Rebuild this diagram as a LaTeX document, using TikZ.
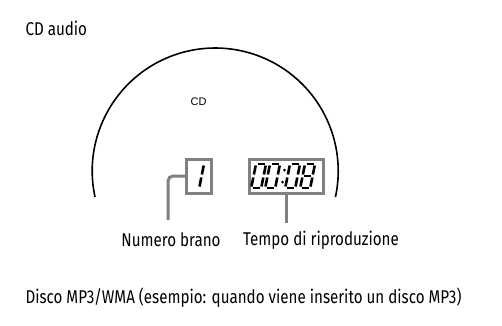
\documentclass[tikz,border=0pt]{standalone}
\usepackage{fontspec}
\setsansfont{Fira Sans}[FakeStretch=0.82]
\newfontfamily\arialfont{Liberation Sans}
\usetikzlibrary{positioning}

% segments of one lcd digit, top left corner at (0,0), y going down
\newcommand\lcdsegA{\draw[lcdseg] (1.5,0) -- (8.5,0);}
\newcommand\lcdsegB{\draw[lcdseg] (10,1.5) -- (10,10.5);}
\newcommand\lcdsegC{\draw[lcdseg] (10,13.5) -- (10,22.5);}
\newcommand\lcdsegD{\draw[lcdseg] (1.5,24) -- (8.5,24);}
\newcommand\lcdsegE{\draw[lcdseg] (0,13.5) -- (0,22.5);}
\newcommand\lcdsegF{\draw[lcdseg] (0,1.5) -- (0,10.5);}
\newcommand\lcdsegG{\draw[lcdseg] (1.5,12) -- (8.5,12);}
\newcommand\lcddigit[2]{%
	\begin{scope}[shift={#1},xslant=0.2]
		\foreach \s in {#2} {\csname lcdseg\s\endcsname}
	\end{scope}}

\begin{document}
\begin{tikzpicture}[x=1pt,y=-1pt,font=\sffamily\fontsize{18.5}{20}\selectfont,
	lcdbox/.style={draw=black!50,line width=3pt,minimum height=34pt,inner sep=0pt,outer sep=0pt},
	lcdseg/.style={line width=2.6pt},
	callout/.style={draw=black!50,line width=3pt,rounded corners=5pt},
	disc/.style={line width=1.6pt}]
	\useasboundingbox (0,0) rectangle (502,325);

	\node [anchor=west] at (22,28) (cd_title) {CD audio};
	\draw [disc] (95,197) arc [start angle=167.8,end angle=372.2,radius=123];
	\node [font=\arialfont\fontsize{11}{12}\selectfont] at (198.5,102) (cd_label) {CD};

	\node [lcdbox,minimum width=25pt] at (198.5,176) (track_box) {};
	\node [lcdbox,minimum width=74pt] at (286,176) (time_box) {};

	% digits
	\lcddigit{(194,164)}{B,C}
	\lcddigit{(256,164)}{A,B,C,D,E,F}
	\lcddigit{(270,164)}{A,B,C,D,E,F}
	\fill (284.5,170) circle (1.5) (282.5,182) circle (1.5);
	\lcddigit{(290,164)}{A,B,C,D,E,F}
	\lcddigit{(305,164)}{A,B,C,D,E,F,G}

	\coordinate (track_end) at (168,220);
	\coordinate (time_end) at (286,223);
	\draw [callout] (track_box.west) -| (track_end);
	\draw [callout] (time_box.south) -- (time_end);

	\node at (171,240) (track_txt) {Numero brano};
	\node at (321,240) (time_txt) {Tempo di riproduzione};

	\node [anchor=west] at (22,298) (mp3_title) {Disco MP3/WMA (esempio: quando viene inserito un disco MP3)};
\end{tikzpicture}
\end{document}
